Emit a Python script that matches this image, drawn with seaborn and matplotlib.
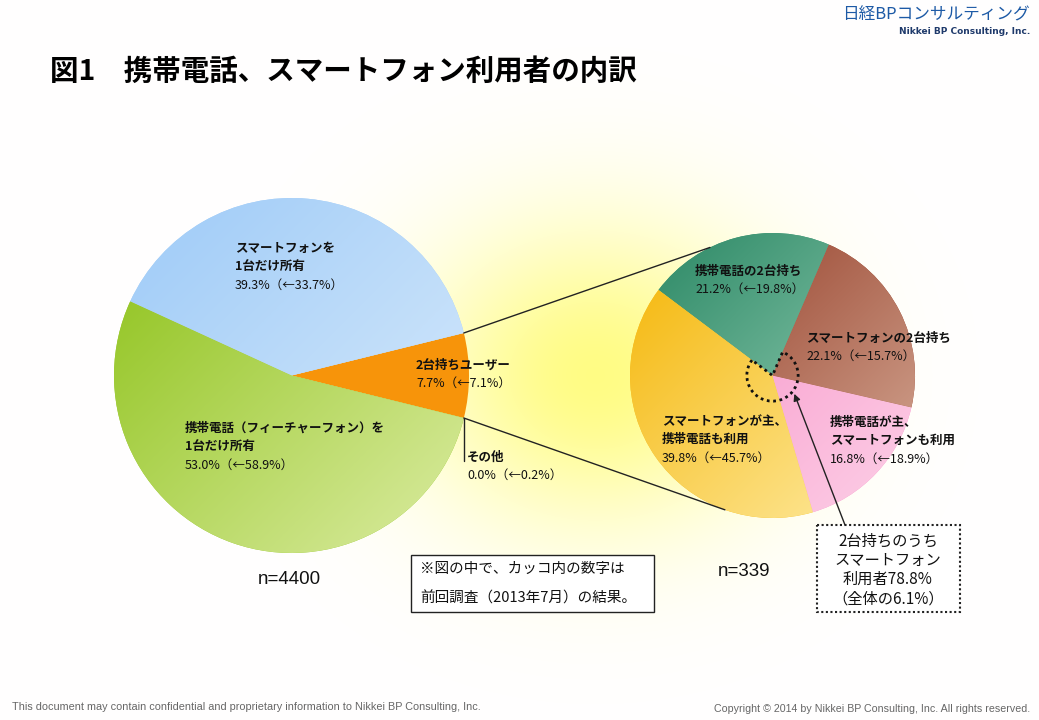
import numpy as np
import matplotlib
matplotlib.use("Agg")
import matplotlib.pyplot as plt
import seaborn as sns
from matplotlib.patches import Wedge, Rectangle, ConnectionPatch

# ---- data ----
overall_names = [["2台持ちユーザー"], ["スマートフォンを", "1台だけ所有"],
                 ["携帯電話（フィーチャーフォン）を", "1台だけ所有"], ["その他"]]
overall_now = [7.7, 39.3, 53.0, 0.0]
overall_prev = [7.1, 33.7, 58.9, 0.2]
overall_n = 4400

dual_names = [["携帯電話の2台持ち"], ["スマートフォンが主、", "携帯電話も利用"],
              ["携帯電話が主、", "スマートフォンも利用"], ["スマートフォンの2台持ち"]]
dual_now = [21.2, 39.8, 16.8, 22.1]
dual_prev = [19.8, 45.7, 18.9, 15.7]
dual_n = 339

smartphone_share = 78.8
smartphone_total = 6.1

# gradient colours (dark top-left -> light bottom-right)
overall_colors = [("#f7940a", "#f7940a"), ("#a6cff8", "#d2e7fb"),
                  ("#97c72a", "#d0e68e"), ("#999999", "#999999")]
dual_colors = [("#3a9270", "#95ceb4"), ("#f6bd1c", "#fde48e"),
               ("#f793c8", "#fcc6e2"), ("#98432d", "#cc9a86")]

W, H = 1039, 720
sns.set_theme(style="white")
plt.rcParams['font.family'] = ['Noto Sans CJK JP', 'DejaVu Sans']

fig = plt.figure(figsize=(W / 100, H / 100), dpi=100)


def px_rect(left, top, width, height):
    return [left / W, 1 - (top + height) / H, width / W, height / H]


# background glow between the two pies
bg = fig.add_axes([0, 0, 1, 1], zorder=0)
yy, xx = np.mgrid[0:H, 0:W]
glow = np.exp(-((xx - 595) / 175.0) ** 2 - ((yy - 375) / 150.0) ** 2)
img = np.ones((H, W, 3))
img[..., 2] = 1 - 0.48 * glow
img[..., 1] = 1 - 0.01 * glow
bg.imshow(img, extent=(0, W, H, 0), aspect="auto")
bg.set_xlim(0, W)
bg.set_ylim(H, 0)
bg.axis("off")


def gradient_pie(ax, values, colors, start):
    wedges, _ = ax.pie(values, startangle=start, counterclock=True, radius=1,
                       wedgeprops=dict(linewidth=0))
    gy, gx = np.mgrid[-1:1:300j, -1:1:300j]
    t = (gx - gy + 2) / 4
    for w, (c1, c2) in zip(wedges, colors):
        w.set_facecolor(c1)
        if c1 != c2:
            cmap = sns.blend_palette([c1, c2], as_cmap=True)
            im = ax.imshow(t, extent=(-1, 1, -1, 1), origin="lower", cmap=cmap,
                           vmin=0.15, vmax=0.85, zorder=2)
            im.set_clip_path(w)
    ax.set_xlim(-1, 1)
    ax.set_ylim(-1, 1)
    ax.set_aspect("equal")
    ax.axis("off")
    return wedges


axL = fig.add_axes(px_rect(114, 198, 355, 355), zorder=1)
axL.patch.set_alpha(0)
wl = gradient_pie(axL, overall_now, overall_colors,
                  -overall_now[0] / 100 * 360 / 2)

axR = fig.add_axes(px_rect(630, 233, 285, 285), zorder=1)
axR.patch.set_alpha(0)
wr = gradient_pie(axR, dual_now, dual_colors, 66.7)

# overlay in pixel coordinates
ov = fig.add_axes([0, 0, 1, 1], zorder=3)
ov.set_xlim(0, W)
ov.set_ylim(H, 0)
ov.axis("off")
ov.patch.set_alpha(0)


def edge(ax, ang, r=1.0):
    a = np.deg2rad(ang)
    return (r * np.cos(a), r * np.sin(a))


# connector lines from the 2-device slice to the right pie
for ang_l, ang_r in [(wl[0].theta2, 116), (wl[0].theta1, 250.5)]:
    con = ConnectionPatch(xyA=edge(axL, ang_l), coordsA=axL.transData,
                          xyB=edge(axR, ang_r), coordsB=axR.transData,
                          color="#222222", lw=1.0, zorder=4)
    fig.add_artist(con)

# leader for その他
p_other = ov.transData.inverted().transform(
    axL.transData.transform(edge(axL, wl[0].theta1)))
ov.plot([p_other[0], p_other[0]], [p_other[1], p_other[1] + 43],
        color="#222222", lw=1.0)

# dotted outline at centre of right pie
axR.add_patch(Wedge((0, 0), 0.18, wr[0].theta2, wr[0].theta1 + 360,
                    fill=False, ec="#111111", lw=2.0,
                    linestyle=(0, (1, 1.3)), zorder=5))


def slice_label(x, y, names, now, prev):
    for i, line in enumerate(names):
        ov.text(x, y + 18.5 * i, line, fontsize=9, fontweight="bold",
                color="#111111", va="center", ha="left")
    ov.text(x, y + 18.5 * len(names), f"{now:.1f}%（←{prev:.1f}%）",
            fontsize=9, color="#111111", va="center", ha="left")


overall_pos = [(416, 365), (235, 248), (185, 428), (467, 457)]
for (x, y), nm, a, b in zip(overall_pos, overall_names, overall_now, overall_prev):
    slice_label(x, y, nm, a, b)

dual_pos = [(695, 271), (662, 421), (830, 422), (806, 338)]
for (x, y), nm, a, b in zip(dual_pos, dual_names, dual_now, dual_prev):
    slice_label(x, y, nm, a, b)

# sample sizes
ov.text(258, 579, f"n={overall_n}", fontsize=13.5, family="Liberation Sans",
        va="center", ha="left", color="#111111")
ov.text(718, 572, f"n={dual_n}", fontsize=13.5, family="Liberation Sans",
        va="center", ha="left", color="#111111")

# note box
ov.add_patch(Rectangle((411, 555), 243, 57, fill=True, fc="white",
                       ec="#222222", lw=1.0))
ov.text(420, 569, "※図の中で、カッコ内の数字は", fontsize=10.5,
        va="center", ha="left", color="#111111")
ov.text(420, 598, "前回調査（2013年7月）の結果。", fontsize=10.5,
        va="center", ha="left", color="#111111")

# dotted call-out box
ov.add_patch(Rectangle((817, 525), 143, 87, fill=True, fc="white",
                       ec="#222222", lw=1.5, linestyle=(0, (1, 1.2))))
box_lines = ["2台持ちのうち", "スマートフォン", f"利用者{smartphone_share}%",
             f"（全体の{smartphone_total}%）"]
for i, line in enumerate(box_lines):
    ov.text(888, 541 + 19.3 * i, line, fontsize=11, va="center",
            ha="center", color="#111111")

ov.annotate("", xy=ov.transData.inverted().transform(
                axR.transData.transform(edge(axR, -40, 0.2))),
            xytext=(845, 525), xycoords="data",
            arrowprops=dict(arrowstyle="-|>", color="#222222", lw=1.0,
                            mutation_scale=10, shrinkA=0, shrinkB=0))

# title and logo
ov.text(50, 72, "図1　携帯電話、スマートフォン利用者の内訳", fontsize=20.5,
        fontweight="bold", va="center", ha="left", color="#000000")
ov.text(1030, 15, "日経BPコンサルティング", fontsize=12, va="center",
        ha="right", color="#1d5aa6")
ov.text(1030, 31, "Nikkei BP Consulting, Inc.", fontsize=6.5,
        fontweight="bold", va="center", ha="right", color="#1f3a6b",
        family="DejaVu Sans")

# footer
ov.text(12, 707, "This document may contain confidential and proprietary "
        "information to Nikkei BP Consulting, Inc.", fontsize=7.8,
        family="Liberation Sans", va="center", ha="left", color="#666666")
ov.text(1030, 709, "Copyright © 2014 by Nikkei BP Consulting, Inc. "
        "All rights reserved.", fontsize=7.7, family="Liberation Sans",
        va="center", ha="right", color="#666666")

fig.savefig("out.png", dpi=100)
